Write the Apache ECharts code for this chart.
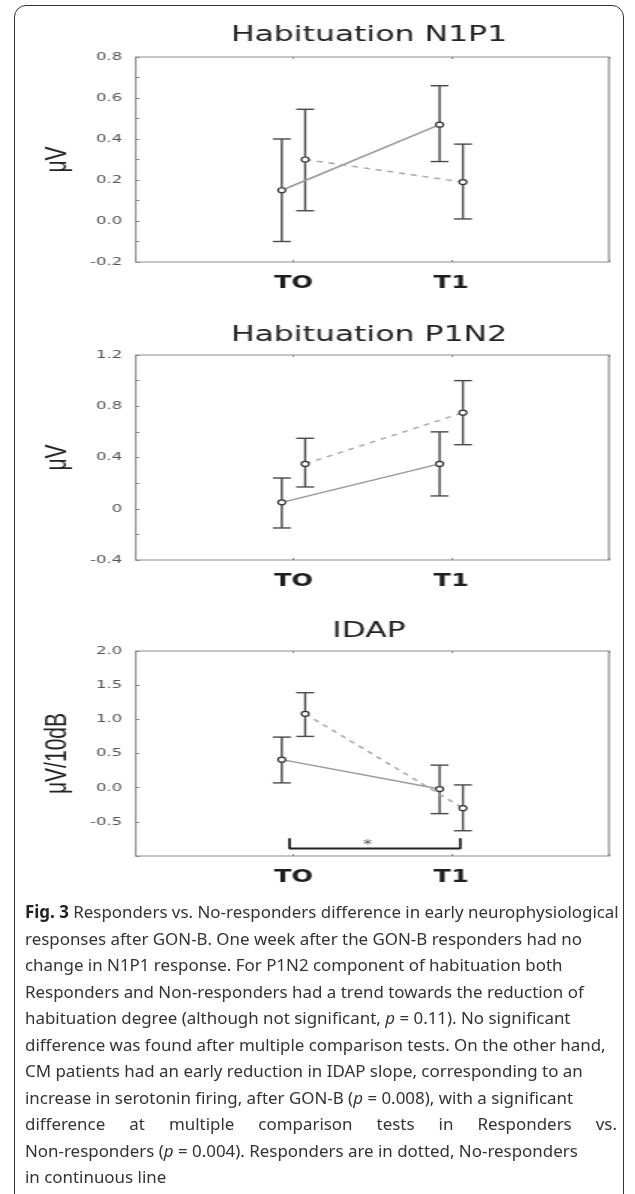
<!DOCTYPE html>
<html>
<head>
<meta charset="utf-8">
<script src="https://cdn.jsdelivr.net/npm/echarts@6/dist/echarts.min.js"></script>
<style>
  html, body { margin: 0; padding: 0; background: #fff; }
  body { width: 635px; height: 1194px; position: relative; overflow: hidden; }
  #frame {
    position: absolute; left: 14px; top: 5px; width: 610px; height: 1210px;
    border: 1.5px solid #333; border-radius: 12px; box-sizing: border-box;
  }
  /* the figure graphic is stretched horizontally in the original */
  #chart {
    position: absolute; left: 0; top: 0;
    width: 423.33px; height: 900px;
    transform: scaleX(1.5); transform-origin: 0 0;
  }
  #caption {
    position: absolute; left: 25px; top: 899px; width: 592px;
    font-family: "Noto Sans", "Open Sans", sans-serif; font-size: 15.6px;
    line-height: 26.5px; color: #333;
  }
  #caption div { white-space: nowrap; }
  #caption .just { text-align: justify; text-align-last: justify; white-space: normal; }
  #caption b { color: #222; }
</style>
</head>
<body>
<div id="frame"></div>
<div id="chart"></div>
<div id="caption">
  <div><span id="firstLine"><b>Fig. 3</b> Responders vs. No-responders difference in early neurophysiological</span></div>
  <div>responses after GON-B. One week after the GON-B responders had no</div>
  <div>change in N1P1 response. For P1N2 component of habituation both</div>
  <div>Responders and Non-responders had a trend towards the reduction of</div>
  <div>habituation degree (although not significant, <i>p</i> = 0.11). No significant</div>
  <div>difference was found after multiple comparison tests. On the other hand,</div>
  <div>CM patients had an early reduction in IDAP slope, corresponding to an</div>
  <div>increase in serotonin firing, after GON-B (<i>p</i> = 0.008), with a significant</div>
  <div class="just">difference at multiple comparison tests in Responders vs.</div>
  <div>Non-responders (<i>p</i> = 0.004). Responders are in dotted, No-responders</div>
  <div>in continuous line</div>
</div>
<script>
// time points
const times = ['TO', 'T1'];
const timeX = [0, 1];

// Habituation N1P1 (µV)
const n1p1NonResp = [0.15, 0.47];
const n1p1NonRespLow = [-0.10, 0.29];
const n1p1NonRespHigh = [0.40, 0.66];
const n1p1Resp = [0.30, 0.19];
const n1p1RespLow = [0.05, 0.01];
const n1p1RespHigh = [0.545, 0.375];

// Habituation P1N2 (µV)
const p1n2NonResp = [0.05, 0.35];
const p1n2NonRespLow = [-0.15, 0.10];
const p1n2NonRespHigh = [0.24, 0.60];
const p1n2Resp = [0.35, 0.75];
const p1n2RespLow = [0.17, 0.50];
const p1n2RespHigh = [0.55, 1.00];

// IDAP (µV/10dB)
const idapNonResp = [0.41, -0.02];
const idapNonRespLow = [0.07, -0.38];
const idapNonRespHigh = [0.74, 0.33];
const idapResp = [1.08, -0.30];
const idapRespLow = [0.75, -0.63];
const idapRespHigh = [1.39, 0.04];

// significance bracket in IDAP panel
const bracketX = [-0.025, 1.057];
const bracketY = [-0.89, -0.74];
const starPoint = [0.47, -0.83];

const panels = [
    {title: 'Habituation N1P1', yName: 'μV', min: -0.2, max: 0.8, step: 0.2, minor: true, digits: 1,
     nonResp: n1p1NonResp, nonRespLow: n1p1NonRespLow, nonRespHigh: n1p1NonRespHigh,
     resp: n1p1Resp, respLow: n1p1RespLow, respHigh: n1p1RespHigh, top: 57, titleY: 35.5},
    {title: 'Habituation P1N2', yName: 'μV', min: -0.4, max: 1.2, step: 0.4, minor: true, digits: null,
     nonResp: p1n2NonResp, nonRespLow: p1n2NonRespLow, nonRespHigh: p1n2NonRespHigh,
     resp: p1n2Resp, respLow: p1n2RespLow, respHigh: p1n2RespHigh, top: 355, titleY: 335.7},
    {title: 'IDAP', yName: 'μV/10dB', min: -1, max: 2, step: 0.5, minor: false, digits: 1, hideMin: true,
     nonResp: idapNonResp, nonRespLow: idapNonRespLow, nonRespHigh: idapNonRespHigh,
     resp: idapResp, respLow: idapRespLow, respHigh: idapRespHigh, top: 651, titleY: 631.7}
];

const shift = 0.074;   // side-by-side offset of the two groups
const gridH = 205;

let chart = echarts.init(document.getElementById('chart'));

function errorBar(params, api) {
    let x = api.value(0);
    let lo = api.coord([x, api.value(1)]);
    let hi = api.coord([x, api.value(2)]);
    let w = 6;
    let style = {stroke: '#4a4a4a', lineWidth: 1.4, fill: null};
    return {
        type: 'group',
        children: [
            {type: 'line', shape: {x1: lo[0], y1: lo[1], x2: hi[0], y2: hi[1]}, style: style},
            {type: 'line', shape: {x1: lo[0] - w, y1: lo[1], x2: lo[0] + w, y2: lo[1]}, style: style},
            {type: 'line', shape: {x1: hi[0] - w, y1: hi[1], x2: hi[0] + w, y2: hi[1]}, style: style}
        ]
    };
}

let grid = [], xAxis = [], yAxis = [], series = [], graphic = [];

panels.forEach((p, i) => {
    grid.push({left: 90.5, width: 315.5, top: p.top, height: gridH, show: true,
               borderColor: '#8c8c8c', borderWidth: 1.2});
    xAxis.push({
        type: 'value', gridIndex: i, min: -1, max: 2, interval: 1,
        axisLine: {show: false, onZero: false}, splitLine: {show: false},
        axisTick: {inside: true, length: 2, lineStyle: {color: '#888'}},
        axisLabel: {
            margin: 13, color: '#1e1e1e', fontFamily: 'DejaVu Sans', fontWeight: 'bold', fontSize: 17,
            formatter: v => (times[timeX.indexOf(v)] || '')
        }
    });
    xAxis.push({
        type: 'value', gridIndex: i, position: 'top', min: -1, max: 2, interval: 1,
        axisLine: {show: false, onZero: false}, splitLine: {show: false}, axisLabel: {show: false},
        axisTick: {inside: true, length: 2, lineStyle: {color: '#888'}}
    });
    yAxis.push({
        type: 'value', gridIndex: i, position: 'left', min: p.min, max: p.max, interval: p.step,
        name: p.yName, nameLocation: 'middle', nameGap: 35,
        nameTextStyle: {fontFamily: 'Liberation Sans', fontSize: 21, color: '#222'},
        axisLine: {show: false, onZero: false}, splitLine: {show: false},
        axisTick: {inside: true, length: 2.5, lineStyle: {color: '#888'}},
        minorTick: {show: p.minor, splitNumber: 2, length: 2.5, lineStyle: {color: '#888'}},
        axisLabel: {
            margin: 9, color: '#555', fontFamily: 'DejaVu Sans', fontSize: 11,
            formatter: v => {
                if (p.hideMin && v === p.min) return '';
                return p.digits === null ? String(Math.round(v * 10) / 10) : v.toFixed(p.digits);
            }
        }
    });
    graphic.push({
        type: 'text', x: 246, y: p.titleY,
        style: {text: p.title, textAlign: 'center', textVerticalAlign: 'middle',
                font: '21px "DejaVu Sans"', fill: '#222'}
    });

    let xi = i * 2;
    let groups = [
        {mean: p.nonResp, low: p.nonRespLow, high: p.nonRespHigh, dx: -shift, dash: 'solid', color: '#9a9a9a'},
        {mean: p.resp, low: p.respLow, high: p.respHigh, dx: shift, dash: [4, 4], color: '#a8a8a8'}
    ];
    groups.forEach(g => {
        series.push({
            type: 'custom', xAxisIndex: xi, yAxisIndex: i, z: 2, silent: true,
            renderItem: errorBar, encode: {x: 0, y: [1, 2]},
            data: timeX.map((t, k) => [t + g.dx, g.low[k], g.high[k]])
        });
        series.push({
            type: 'line', xAxisIndex: xi, yAxisIndex: i, z: 3, silent: true,
            data: timeX.map((t, k) => [t + g.dx, g.mean[k]]),
            symbol: 'circle', symbolSize: 5,
            itemStyle: {color: '#fff', borderColor: '#333', borderWidth: 1.2},
            lineStyle: {color: g.color, width: 1.5, type: g.dash}
        });
    });
});

// bracket + star in the IDAP panel
series.push({
    type: 'line', xAxisIndex: 4, yAxisIndex: 2, z: 4, silent: true, symbol: 'none',
    data: [[bracketX[0], bracketY[1]], [bracketX[0], bracketY[0]],
           [bracketX[1], bracketY[0]], [bracketX[1], bracketY[1]]],
    lineStyle: {color: '#222', width: 1.8}
});
series.push({
    type: 'scatter', xAxisIndex: 4, yAxisIndex: 2, z: 4, silent: true, symbolSize: 0,
    data: [starPoint],
    label: {show: true, position: 'inside', formatter: '*', fontSize: 12, color: '#222',
            fontFamily: 'DejaVu Sans'}
});

let option = {
    animation: false,
    backgroundColor: 'transparent',
    grid: grid,
    xAxis: xAxis,
    yAxis: yAxis,
    series: series,
    graphic: graphic
};
chart.setOption(option, true);

// fit caption so the first line spans the text block like the original
let cap = document.getElementById('caption');
let first = document.getElementById('firstLine');
let fs = 15.6;
for (let k = 0; k < 20; k++) {
    let w = first.getBoundingClientRect().width;
    if (Math.abs(w - 594) < 1) break;
    fs = fs * 594 / w;
    cap.style.fontSize = fs + 'px';
}
</script>
</body>
</html>
